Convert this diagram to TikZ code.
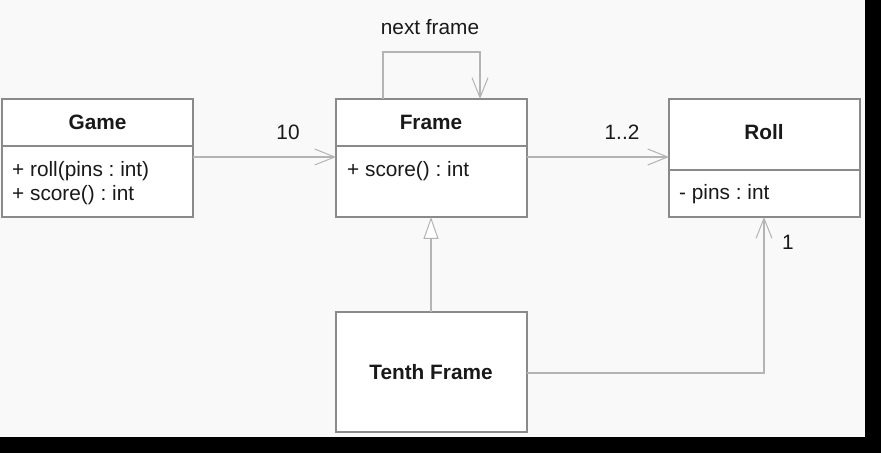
\documentclass[tikz,border=0pt]{standalone}
\usepackage{fontspec}
\setmainfont{Liberation Sans}
\usetikzlibrary{arrows.meta}
\frenchspacing
\begin{document}
\begin{tikzpicture}[x=1pt,y=1pt,
  classbox/.style={draw=boxgray, line width=1.1pt, fill=white},
  conn/.style={draw=linegray, line width=1.1pt},
  assoc/.style={conn, -{Straight Barb[length=20pt,width=16pt,line width=1pt]}},
  inherit/.style={conn, -{Triangle[open,length=22pt,width=15pt,line width=1pt,fill=white]}},
  txt/.style={font=\fontsize{20.8}{24}\selectfont, inner sep=0pt, text=black!90},
  ttl/.style={txt, font=\fontsize{20.8}{24}\selectfont\bfseries}]
\definecolor{boxgray}{HTML}{8A8A8A}
\definecolor{linegray}{HTML}{B4B4B4}
\definecolor{bg}{HTML}{F9F9F9}
% canvas and the dark strips along the bottom and right
\fill[bg] (0,0) rectangle (881,453);
\useasboundingbox (0,0) rectangle (881,453);
\fill[black] (0,0) rectangle (881,16);
\fill[black] (865,0) rectangle (881,453);

% Game
\draw[classbox] (2,236) rectangle (193,354);
\draw[classbox] (2,307) -- (193,307);
\node[ttl] (gameT) at (97.5,331) {Game};
\node[txt, anchor=base west] (gameM1) at (12,276) {+ roll(pins : int)};
\node[txt, anchor=base west] (gameM2) at (12,252) {+ score() : int};
\coordinate (gameR) at (193,296);

% Frame
\draw[classbox] (336,236) rectangle (527,354);
\draw[classbox] (336,307) -- (527,307);
\node[ttl] (frameT) at (431,331) {Frame};
\node[txt, anchor=base west] (frameM1) at (347,276) {+ score() : int};
\coordinate (frameL) at (336,296);
\coordinate (frameR) at (527,296);
\coordinate (frameB) at (431,236);
\coordinate (frameTopA) at (383,354);
\coordinate (frameTopB) at (480,354);
\coordinate (loopA) at (383,401);
\coordinate (loopB) at (480,401);

% Roll
\draw[classbox] (669,236) rectangle (860,354);
\draw[classbox] (669,283) -- (860,283);
\node[ttl] (rollT) at (764,321) {Roll};
\node[txt, anchor=base west] (rollM1) at (679,253) {- pins : int};
\coordinate (rollL) at (669,296);
\coordinate (rollB) at (764,236);

% Tenth Frame
\draw[classbox] (336,21) rectangle (527,141);
\node[ttl] (tenthT) at (431,81) {Tenth Frame};
\coordinate (tenthTop) at (431,141);
\coordinate (tenthR) at (527,80);
\coordinate (bend) at (764,80);

% connectors
\draw[assoc] (gameR) -- (frameL);
\draw[assoc] (frameR) -- (rollL);
\draw[assoc] (frameTopA) -- (loopA) -- (loopB) -- (frameTopB);
\draw[inherit] (tenthTop) -- (frameB);
\draw[assoc] (tenthR) -- (bend) -- (rollB);

% labels
\node[txt] (lblNext) at (430,426) {next frame};
\node[txt] (lbl10) at (288,321) {10};
\node[txt] (lbl12) at (622,321) {1..2};
\node[txt] (lbl1) at (788,211) {1};
\end{tikzpicture}
\end{document}
